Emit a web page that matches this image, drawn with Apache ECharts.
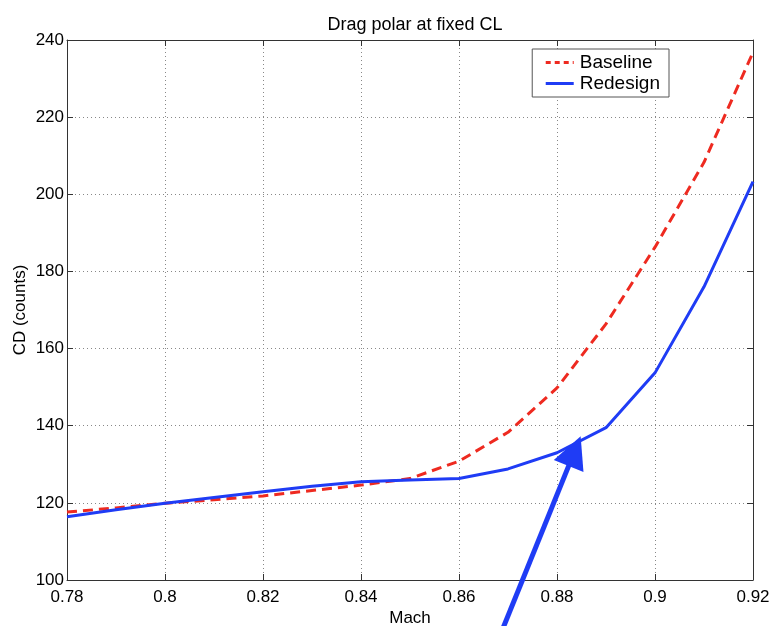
<!DOCTYPE html>
<html><head><meta charset="utf-8">
<script src="https://cdn.jsdelivr.net/npm/echarts@6/dist/echarts.min.js"></script>
<style>html,body{margin:0;padding:0;background:#fff}#c{width:770px;height:626px}</style>
</head><body><div id="c"></div>
<script>
const mach = [0.78,0.79,0.80,0.81,0.82,0.83,0.84,0.85,0.86,0.87,0.88,0.89,0.90,0.91,0.92];
const baseline = [117.6,118.7,119.9,120.8,121.8,123.2,124.6,126.3,130.8,138.3,149.8,166.4,186.3,208.3,236.8];
const redesign = [116.4,118.2,119.9,121.4,122.9,124.3,125.5,125.9,126.3,128.8,133.0,139.5,153.7,176.0,203.3];
const xTicks = [0.78,0.80,0.82,0.84,0.86,0.88,0.90,0.92];
const yTicks = [100,120,140,160,180,200,220,240];
const arrowTail = [0.8685, 86.0];
const arrowHead = [0.8836, 133.4];

const font = 'Liberation Sans, Arial, sans-serif';
const chart = echarts.init(document.getElementById('c'));
const axisCommon = {
  axisLine: {show: true, lineStyle: {color: '#333', width: 1}},
  axisTick: {show: true, inside: true, length: 6, lineStyle: {color: '#333'}},
};
chart.setOption({
  animation: false,
  backgroundColor: '#fff',
  title: {text: 'Drag polar at fixed CL', left: 410, textAlign: 'center', top: 11,
    textStyle: {fontFamily: font, fontSize: 18, fontWeight: 'normal', color: '#000'}},
  grid: {left: 67, right: 17, top: 40, bottom: 46, containLabel: false, outerBoundsMode: 'none'},
  legend: {
    right: 101, top: 49, orient: 'vertical', itemWidth: 28, itemHeight: 12, itemGap: 2,
    borderColor: '#555', borderWidth: 1, padding: [4, 9, 4, 12], backgroundColor: '#fff',
    textStyle: {fontFamily: font, fontSize: 19, color: '#000', padding: [0, 0, 0, 1]},
    itemStyle: {opacity: 0},
    data: [
      {name: 'Baseline', lineStyle: {type: [5, 4], width: 3}},
      {name: 'Redesign', lineStyle: {width: 3}}
    ]
  },
  xAxis: [
    Object.assign({type: 'value', min: 0.78, max: 0.92, interval: 0.02,
      name: 'Mach', nameLocation: 'middle', nameGap: 30, nameMoveOverlap: false,
      nameTextStyle: {fontFamily: font, fontSize: 17, color: '#000'},
      axisLabel: {fontFamily: font, fontSize: 17, color: '#000', margin: 9,
        formatter: v => { const t = xTicks.find(k => Math.abs(k - v) < 1e-9); return t === undefined ? '' : String(+t.toFixed(2)); }},
      splitLine: {show: true, lineStyle: {type: [1, 3], color: '#888'}}}, axisCommon),
    Object.assign({type: 'value', position: 'top', min: 0.78, max: 0.92, interval: 0.02,
      axisLabel: {show: false}, splitLine: {show: false}}, axisCommon)
  ],
  yAxis: [
    Object.assign({type: 'value', min: 100, max: 240, interval: 20,
      name: 'CD (counts)', nameLocation: 'middle', nameGap: 38, nameMoveOverlap: false,
      nameTextStyle: {fontFamily: font, fontSize: 17, color: '#000'},
      axisLabel: {fontFamily: font, fontSize: 17, color: '#000', margin: 3,
        formatter: v => yTicks.includes(v) ? String(v) : ''},
      splitLine: {show: true, lineStyle: {type: [1, 3], color: '#888'}}}, axisCommon),
    Object.assign({type: 'value', position: 'right', min: 100, max: 240, interval: 20,
      axisLabel: {show: false}, splitLine: {show: false}}, axisCommon)
  ],
  series: [
    {name: 'Baseline', type: 'line', data: mach.map((m, i) => [m, baseline[i]]),
      showSymbol: false, symbol: 'none', color: '#ee2a20',
      lineStyle: {width: 3, type: [10, 6], color: '#ee2a20'}},
    {name: 'Redesign', type: 'line', data: mach.map((m, i) => [m, redesign[i]]),
      showSymbol: false, symbol: 'none', color: '#1f3cf5',
      lineStyle: {width: 3, color: '#1f3cf5'}},
    {name: 'arrow', type: 'lines', coordinateSystem: 'cartesian2d', clip: false, silent: true,
      symbol: ['none', 'triangle'], symbolSize: [0, 32],
      lineStyle: {color: '#1f3cf5', width: 5, opacity: 1},
      data: [{coords: [arrowTail, arrowHead]}]}
  ]
});
</script></body></html>
